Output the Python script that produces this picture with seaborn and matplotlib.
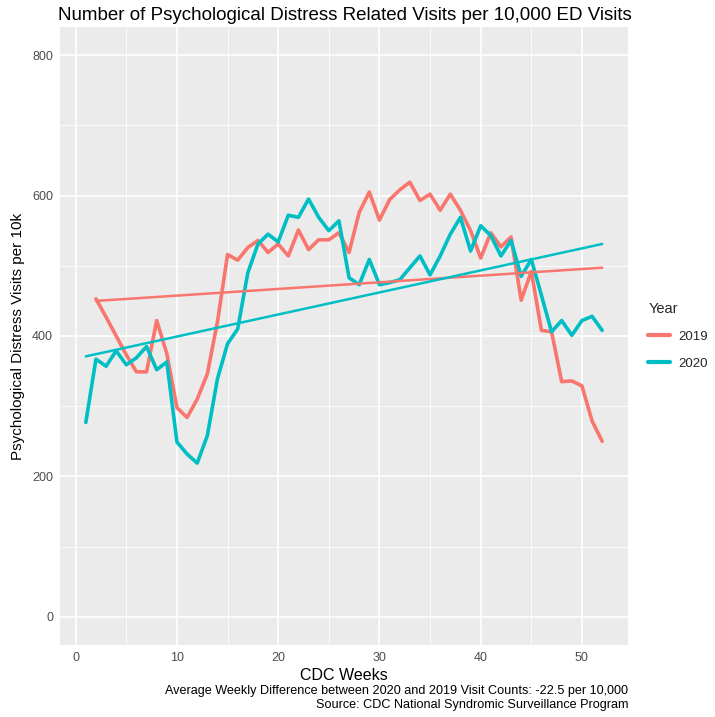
import numpy as np
import pandas as pd
import matplotlib
matplotlib.use("Agg")
import matplotlib.pyplot as plt
import seaborn as sns

weeks_2019 = list(range(2, 53))
visits_2019 = [453, 427, 400, 373, 349, 349, 422, 375, 298, 284,
               310, 346, 420, 516, 508, 526, 536, 519, 531, 514,
               551, 523, 537, 537, 547, 519, 576, 605, 565, 594,
               608, 619, 593, 602, 579, 602, 579, 550, 511, 547,
               527, 541, 451, 492, 408, 406, 335, 336, 329, 279,
               250]
weeks_2020 = list(range(1, 53))
visits_2020 = [277, 367, 357, 379, 359, 369, 385, 352, 363, 249,
               232, 219, 258, 339, 389, 410, 490, 531, 545, 534,
               572, 569, 595, 569, 550, 564, 483, 473, 509, 473,
               476, 480, 497, 514, 487, 514, 545, 569, 521, 557,
               543, 514, 536, 485, 509, 458, 406, 422, 401, 422,
               428, 408]
years = ["2019", "2020"]
colors = ["#F8766D", "#00BFC4"]

title = "Number of Psychological Distress Related Visits per 10,000 ED Visits"
xlabel = "CDC Weeks"
ylabel = "Psychological Distress Visits per 10k"
legend_title = "Year"
caption = ("Average Weekly Difference between 2020 and 2019 Visit Counts: -22.5 per 10,000\n"
           "Source: CDC National Syndromic Surveillance Program")

df = pd.concat([
    pd.DataFrame({"week": weeks_2019, "visits": visits_2019, "Year": years[0]}),
    pd.DataFrame({"week": weeks_2020, "visits": visits_2020, "Year": years[1]}),
], ignore_index=True)

sns.set_theme(style="darkgrid")
plt.rcParams["font.family"] = ["Liberation Sans", "DejaVu Sans"]

fig = plt.figure(figsize=(7.15, 7.17), dpi=100)
ax = fig.add_axes([60 / 715, 1 - 645 / 717, (628 - 60) / 715, (645 - 27) / 717])
ax.set_facecolor("#EBEBEB")

palette = dict(zip(years, colors))
sns.lineplot(data=df, x="week", y="visits", hue="Year", palette=palette,
             linewidth=2.6, ax=ax, legend=True)
for yr, col in zip(years, colors):
    sub = df[df["Year"] == yr]
    sns.regplot(data=sub, x="week", y="visits", scatter=False, ci=None,
                truncate=True, line_kws={"color": col, "linewidth": 1.8}, ax=ax)

ax.set_xlim(1 - 0.05 * 51, 52 + 0.05 * 51)
ax.set_ylim(-40, 840)
ax.set_xticks([0, 10, 20, 30, 40, 50])
ax.set_yticks([0, 200, 400, 600, 800])
ax.set_xticks([5, 15, 25, 35, 45], minor=True)
ax.set_yticks([100, 300, 500, 700], minor=True)
ax.grid(which="major", color="white", linewidth=1.2)
ax.grid(which="minor", color="white", linewidth=0.6)
ax.tick_params(which="major", length=3, width=0.8, color="#333333",
               labelsize=9, labelcolor="#4D4D4D", pad=2)
ax.tick_params(which="minor", length=0)
for s in ax.spines.values():
    s.set_visible(False)
ax.set_xlabel(xlabel, fontsize=11.5, color="black", labelpad=3)
ax.set_ylabel(ylabel, fontsize=11, color="black", labelpad=5)

fig.text(58 / 715, 1 - 16 / 717, title, fontsize=13.5, ha="left", va="center", color="black")
fig.text(628 / 715, 1 - 698 / 717, caption, fontsize=9.1, ha="right", va="center",
         color="black", linespacing=1.3)

handles, labels = ax.get_legend_handles_labels()
leg = ax.legend(handles[:2], labels[:2], title=legend_title, loc="center left",
                bbox_to_anchor=(1.015, 0.5), frameon=False, fontsize=9.5,
                title_fontsize=10.5, handlelength=1.6, handletextpad=0.7,
                labelspacing=1.1, alignment="left")
for line in leg.get_lines():
    line.set_linewidth(3)

fig.savefig("out.png", dpi=100)
